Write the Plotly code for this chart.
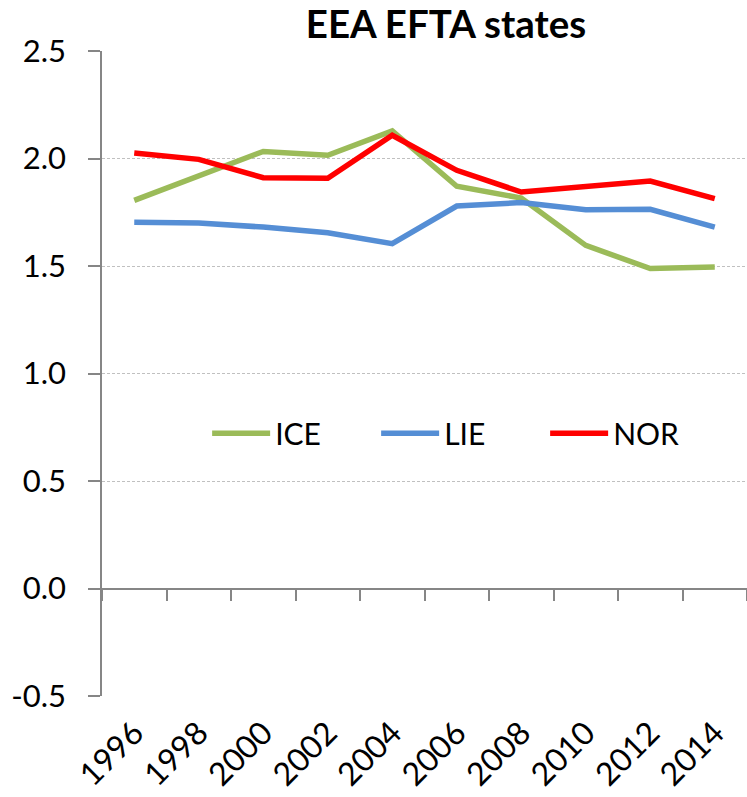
import plotly.graph_objects as go

years = ["1996", "1998", "2000", "2002", "2004", "2006", "2008", "2010", "2012", "2014"]
ice = [1.805, 1.919, 2.033, 2.015, 2.128, 1.871, 1.816, 1.596, 1.488, 1.495]
lie = [1.703, 1.700, 1.681, 1.655, 1.604, 1.779, 1.795, 1.762, 1.764, 1.681]
nor = [2.026, 1.996, 1.911, 1.908, 2.108, 1.945, 1.844, 1.871, 1.895, 1.813]
series_names = ["ICE", "LIE", "NOR"]
series_colors = ["#9BBB59", "#558ED5", "#FF0000"]
y_ticks = [-0.5, 0.0, 0.5, 1.0, 1.5, 2.0, 2.5]
y_tick_labels = ["-0.5", "0.0", "0.5", "1.0", "1.5", "2.0", "2.5"]

FONT = "Lato, 'Open Sans', sans-serif"

fig = go.Figure()
for name, vals, col in zip(series_names, [ice, lie, nor], series_colors):
    fig.add_trace(go.Scatter(
        x=years, y=vals, name=name, mode="lines",
        line=dict(color=col, width=5.5),
    ))

fig.update_layout(
    width=747, height=797,
    margin=dict(l=102, r=0, t=51, b=101, autoexpand=False),
    plot_bgcolor="white", paper_bgcolor="white",
    font=dict(family=FONT, size=30, color="black"),
    title=dict(text="<b>EEA EFTA states</b>", x=0.597, xanchor="center",
               y=0.969, yanchor="middle", yref="container",
               font=dict(family=FONT, size=38.5, color="black")),
    showlegend=True,
    legend=dict(orientation="h", x=0.163, y=0.4075, xanchor="left", yanchor="middle",
                entrywidth=96, entrywidthmode="pixels",
                font=dict(family=FONT, size=30), bgcolor="rgba(0,0,0,0)",
                itemwidth=58),
)

fig.update_xaxes(
    type="category", categoryarray=years, categoryorder="array",
    range=[-0.5, len(years) - 0.5],
    anchor="free", position=1/6, automargin=False,
    showline=True, linecolor="#868686", linewidth=2,
    ticks="outside", ticklen=11, tickwidth=2, tickcolor="#868686",
    tickson="boundaries",
    tickangle=-45, ticklabelstandoff=112,
    showgrid=False, zeroline=False,
    tickfont=dict(family=FONT, size=32),
)

fig.update_yaxes(
    range=[-0.5, 2.5], tickvals=y_ticks, ticktext=y_tick_labels, automargin=False,
    showline=True, linecolor="#868686", linewidth=1.5,
    ticks="outside", ticklen=12, tickwidth=1.5, tickcolor="#868686",
    showgrid=True, gridcolor="#C0C0C0", gridwidth=1, griddash="3px,2px",
    zeroline=False, ticklabelstandoff=16,
    tickfont=dict(family=FONT, size=31),
)

fig.write_html("out.html", config={"displayModeBar": False},
               post_script="document.body.style.margin='0';")
